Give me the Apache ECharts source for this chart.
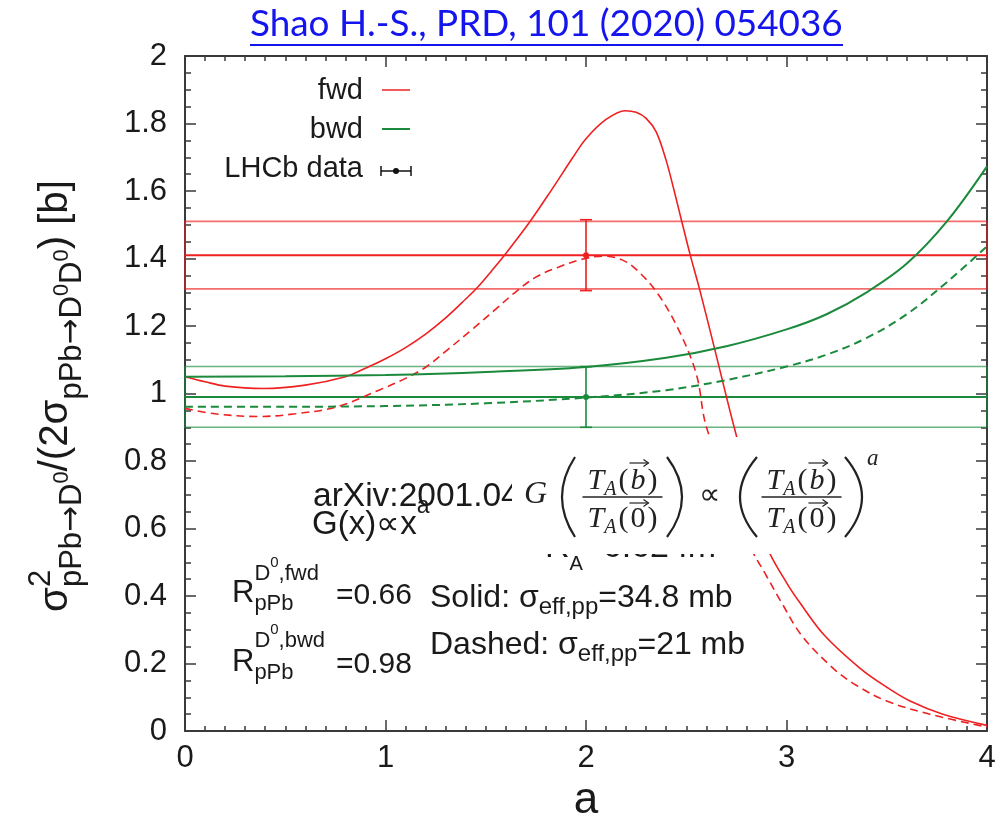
<!DOCTYPE html>
<html><head><meta charset="utf-8">
<script src="https://cdn.jsdelivr.net/npm/echarts@6/dist/echarts.min.js"></script>
<style>html,body{margin:0;padding:0;background:#fff}#c{width:999px;height:828px}</style>
</head><body><div id="c"></div>
<script>
// ---------------- data ----------------
const xTickValues = [0, 1, 2, 3, 4];
const yTickValues = [0, 0.2, 0.4, 0.6, 0.8, 1, 1.2, 1.4, 1.6, 1.8, 2];
const legendNames = ['fwd', 'bwd', 'LHCb data'];

// fwd, sigma_eff,pp = 34.8 mb (solid)
const fwdSolidA = [0, 0.1, 0.2, 0.39, 0.6, 0.8, 0.9, 1.0, 1.1, 1.2, 1.3, 1.4, 1.464, 1.53, 1.6, 1.72, 1.83, 1.935, 2.0, 2.1, 2.196, 2.25, 2.30, 2.35, 2.40, 2.44, 2.478, 2.52, 2.567, 2.64, 2.74, 2.901, 3.0, 3.067, 3.19, 3.367, 3.5, 3.616, 3.78, 4.0];
const fwdSolidY = [1.050, 1.035, 1.022, 1.015, 1.025, 1.050, 1.075, 1.103, 1.136, 1.176, 1.224, 1.280, 1.318, 1.364, 1.415, 1.509, 1.605, 1.700, 1.755, 1.812, 1.838, 1.833, 1.815, 1.775, 1.690, 1.600, 1.509, 1.41, 1.308, 1.136, 0.898, 0.549, 0.440, 0.380, 0.283, 0.186, 0.130, 0.089, 0.050, 0.017];
// fwd, sigma_eff,pp = 21 mb (dashed)
const fwdDashedA = [0, 0.15, 0.366, 0.55, 0.76, 0.967, 1.1, 1.2, 1.3, 1.44, 1.55, 1.647, 1.75, 1.856, 1.98, 2.09, 2.18, 2.25, 2.353, 2.458, 2.55, 2.602, 2.818, 2.9, 2.976, 3.076, 3.233, 3.35, 3.5, 3.716, 4.0];
const fwdDashedY = [0.956, 0.940, 0.932, 0.940, 0.961, 1.010, 1.045, 1.078, 1.125, 1.194, 1.250, 1.300, 1.345, 1.373, 1.398, 1.407, 1.396, 1.368, 1.300, 1.194, 1.058, 0.898, 0.549, 0.460, 0.380, 0.283, 0.186, 0.135, 0.089, 0.050, 0.012];
// bwd, solid
const bwdSolidA = [0, 0.5, 1.0, 1.5, 2.0, 2.4, 2.7, 3.0, 3.2, 3.4, 3.6, 3.8, 4.0];
const bwdSolidY = [1.050, 1.051, 1.055, 1.064, 1.079, 1.106, 1.140, 1.190, 1.235, 1.300, 1.385, 1.510, 1.673];
// bwd, dashed
const bwdDashedA = [0, 0.5, 1.0, 1.5, 2.0, 2.4, 2.7, 3.0, 3.2, 3.4, 3.6, 3.8, 4.0];
const bwdDashedY = [0.961, 0.961, 0.963, 0.971, 0.988, 1.010, 1.040, 1.080, 1.115, 1.165, 1.235, 1.330, 1.436];

// LHCb data (fwd, bwd)
const lhcbA = [2, 2];
const lhcbY = [1.41, 0.99];
const lhcbErr = [0.105, 0.09];

// ---------------- style ----------------
const SANS = '"Liberation Sans", Arial, sans-serif';
const DJV = '"DejaVu Sans", sans-serif';
const SERIF = '"Liberation Serif", "Times New Roman", serif';
const FRAME = '#3a3a3a';
const TXT = '#1a1a1a';
const RED = '#ee2020';
const GREEN = '#1b8a3c';
const lhcbColors = [RED, GREEN];
const bandStyles = [
  {c: lhcbY[0], lo: lhcbY[0] - lhcbErr[0] + 0.005, hi: lhcbY[0] + lhcbErr[0] - 0.005, color: RED, edge: 'rgba(238,32,32,0.65)'},
  {c: lhcbY[1], lo: lhcbY[1] - lhcbErr[1], hi: lhcbY[1] + lhcbErr[1], color: GREEN, edge: 'rgba(27,138,60,0.65)'}
];

const mctx = document.createElement('canvas').getContext('2d');
function fontStr(size, fam, style) { return (style || 'normal') + ' ' + size + 'px ' + fam; }
function measure(t, f) { mctx.font = f; return mctx.measureText(t).width; }

// lay out a run of text pieces with sub/superscripts
function layout(runs, x0, base, opt) {
  const els = [], spans = [];
  let x = x0, anchor = x0, maxX = x0;
  for (const r of runs) {
    if (r.mark) anchor = x;
    if (r.back) x = anchor;
    if (r.max) x = Math.max(x, maxX);
    x += r.pad || 0;
    const fam = r.fam || opt.fam;
    const f = fontStr(r.size, fam, r.style);
    const w = measure(r.t, f);
    const b = base + (r.dy || 0);
    els.push({type: 'text', z: opt.z || 40, x: x, y: b - 0.35 * r.size,
      style: {text: r.t, font: f, fill: opt.color || TXT, align: 'left', verticalAlign: 'middle',
              textAlign: 'left', textVerticalAlign: 'middle'}});
    spans.push([x, x + w]);
    x += w + (r.padR || 0); maxX = Math.max(maxX, x);
  }
  return {els, spans, width: maxX - x0};
}

const graphics = [];

// ---- title ----
const titleText = 'Shao H.-S., PRD, 101 (2020) 054036';
const TITLE_FAM = 'Lato, "Open Sans", sans-serif';
const titleSize = 36 * 593 / measure(titleText, fontStr(36, TITLE_FAM));
graphics.push({type: 'text', z: 60, x: 250, y: 37 - 0.35 * titleSize,
  style: {text: titleText, font: fontStr(titleSize, TITLE_FAM), fill: '#1414ee', align: 'left', verticalAlign: 'middle', textAlign: 'left', textVerticalAlign: 'middle'}});
graphics.push({type: 'line', z: 60, shape: {x1: 250, y1: 45, x2: 843, y2: 45}, style: {stroke: '#1414ee', lineWidth: 2}});

// ---- y axis label (rotated) ----
function yLabelRuns(M, S, s2) {
  const subDy = 0.33 * M, supDy = -0.45 * M, ssDy = subDy - 0.45 * S;
  return [
    {t: 'σ', size: M},
    {t: '2', size: S, dy: supDy, mark: true},
    {t: 'pPb', size: S, dy: subDy, back: true},
    {t: '→', size: S, dy: subDy, fam: DJV},
    {t: 'D', size: S, dy: subDy},
    {t: '0', size: s2, dy: ssDy},
    {t: '/(2σ', size: M, max: true},
    {t: 'pPb', size: S, dy: subDy},
    {t: '→', size: S, dy: subDy, fam: DJV},
    {t: 'D', size: S, dy: subDy},
    {t: '0', size: s2, dy: ssDy},
    {t: 'D', size: S, dy: subDy},
    {t: '0', size: s2, dy: ssDy},
    {t: ') [b]', size: M}
  ];
}
const yw0 = layout(yLabelRuns(35, 27, 19), 0, 0, {fam: SANS}).width;
const yf = Math.min(1.2, 432 / yw0);
const yl = layout(yLabelRuns(35 * yf, 27 * yf, 19 * yf), 0, 0, {fam: SANS, z: 40});
graphics.push({type: 'group', x: 70, y: 396 + yl.width / 2, rotation: Math.PI / 2, children: yl.els});

// ---- legend ----
const legRows = [91, 130, 169];
legendNames.forEach((n, i) => {
  graphics.push({type: 'text', z: 40, x: 363, y: legRows[i],
    style: {text: n, font: fontStr(29, SANS), fill: TXT, align: 'right', verticalAlign: 'middle', textAlign: 'right', textVerticalAlign: 'middle'}});
});
graphics.push({type: 'line', z: 40, shape: {x1: 382, y1: 90, x2: 410, y2: 90}, style: {stroke: RED, lineWidth: 1.5}});
graphics.push({type: 'line', z: 40, shape: {x1: 382, y1: 129, x2: 410, y2: 129}, style: {stroke: GREEN, lineWidth: 2}});
graphics.push({type: 'line', z: 40, shape: {x1: 381, y1: 171, x2: 411, y2: 171}, style: {stroke: '#111', lineWidth: 1.5}});
graphics.push({type: 'line', z: 40, shape: {x1: 381, y1: 166, x2: 381, y2: 176}, style: {stroke: '#111', lineWidth: 1.5}});
graphics.push({type: 'line', z: 40, shape: {x1: 411, y1: 166, x2: 411, y2: 176}, style: {stroke: '#111', lineWidth: 1.5}});
graphics.push({type: 'circle', z: 40, shape: {cx: 396, cy: 171, r: 3}, style: {fill: '#111'}});

// ---- annotations ----
const A = 32, AS = 24;
function addRuns(runs, x, base, z, color) { layout(runs, x, base, {fam: SANS, z: z || 40, color}).els.forEach(e => graphics.push(e)); }
addRuns([{t: 'arXiv:2001.04516', size: 33.5}], 313, 508);
addRuns([{t: 'G(x)∝x', size: 33}, {t: 'a', size: 23, dy: -21}], 312, 536);
addRuns([{t: 'R', size: 34}, {t: 'A', size: 20, dy: 11}, {t: '=6.62 fm', size: 34}], 545, 560, 40);
addRuns([{t: 'R', size: 31}, {t: 'D', size: 22, dy: -22, mark: true}, {t: '0', size: 15, dy: -36}, {t: ',fwd', size: 22, dy: -22}, {t: 'pPb', size: 22, dy: 8, back: true}], 232, 604);
addRuns([{t: '=0.66', size: 30}], 336, 606);
addRuns([{t: 'R', size: 31}, {t: 'D', size: 22, dy: -24, mark: true}, {t: '0', size: 15, dy: -38}, {t: ',bwd', size: 22, dy: -24}, {t: 'pPb', size: 22, dy: 8, back: true}], 232, 673);
addRuns([{t: '=0.98', size: 30}], 336, 675);
addRuns([{t: 'Solid: σ', size: A}, {t: 'eff,pp', size: AS, dy: 7}, {t: '=34.8 mb', size: A}], 430, 609);
addRuns([{t: 'Dashed: σ', size: A}, {t: 'eff,pp', size: AS, dy: 7}, {t: '=21 mb', size: A}], 430, 656);

// ---- formula box ----
graphics.push({type: 'rect', z: 45, shape: {x: 512, y: 437, width: 390, height: 117}, style: {fill: '#fff'}});
const EZ = 50, EC = '#222';
function eq(runs, x, base) { return layout(runs, x, base, {fam: SERIF, z: EZ, color: EC}); }
function arrow(x1, x2, y) {
  graphics.push({type: 'line', z: EZ, shape: {x1, y1: y, x2, y2: y}, style: {stroke: EC, lineWidth: 1.2}});
  graphics.push({type: 'polyline', z: EZ, shape: {points: [[x2 - 5, y - 3.5], [x2, y], [x2 - 5, y + 3.5]]}, style: {stroke: EC, fill: 'none', lineWidth: 1.2}});
}
function paren(xTop, xMid, yTop, yBot) {
  graphics.push({type: 'bezierCurve', z: EZ, shape: {x1: xTop, y1: yTop, x2: xTop, y2: yBot, cpx1: 2 * xMid - xTop, cpy1: (yTop + yBot) / 2},
    style: {stroke: EC, fill: 'none', lineWidth: 2.2}});
}
const FS = 30, FA = 20;
function fracRuns(arg, italicArg) {
  return [{t: 'T', size: FS, style: 'italic'}, {t: 'A', size: FA, style: 'italic', dy: 5, padR: 2},
          {t: '(', size: FS, padR: 2}, {t: arg, size: FS, style: italicArg ? 'italic' : 'normal', padR: 2}, {t: ')', size: FS}];
}
function fraction(cx) {
  const num = fracRuns('b', true);
  const w = eq(num, 0, 0).width;
  const n = eq(num, cx - w / 2, 492);
  n.els.forEach(e => graphics.push(e));
  const bs = n.spans[3];
  arrow(bs[0] - 1, bs[1] + 3, 463);
  const den = fracRuns('0', false);
  const w2 = eq(den, 0, 0).width;
  const d = eq(den, cx - w2 / 2, 530);
  d.els.forEach(e => graphics.push(e));
  const ds = d.spans[3];
  arrow(ds[0] - 1, ds[1] + 3, 503);
  graphics.push({type: 'line', z: EZ, shape: {x1: cx - 40, y1: 497, x2: cx + 40, y2: 497}, style: {stroke: EC, lineWidth: 1.3}});
}
eq([{t: 'G', size: 32, style: 'italic'}], 524, 506).els.forEach(e => graphics.push(e));
paren(575, 562, 457, 537);
fraction(622.5);
paren(667, 682, 457, 537);
eq([{t: '∝', size: 30}], 699, 507).els.forEach(e => graphics.push(e));
paren(757, 740, 457, 537);
fraction(801.5);
paren(845, 862, 457, 537);
eq([{t: 'a', size: 23, style: 'italic'}], 867, 467).els.forEach(e => graphics.push(e));

// ---------------- chart ----------------
function pairs(a, y) { return a.map((v, i) => [v, y[i]]); }
function xAxis(pos, show) {
  return {type: 'value', position: pos, min: xTickValues[0], max: xTickValues[xTickValues.length - 1], interval: 1,
    axisLine: {show: true, onZero: false, lineStyle: {color: FRAME, width: 2}},
    axisTick: {show: true, inside: true, length: 11, lineStyle: {color: FRAME, width: 1.5}},
    minorTick: {show: true, splitNumber: 10, length: 5, lineStyle: {color: FRAME, width: 1.5}},
    splitLine: {show: false}, minorSplitLine: {show: false},
    axisLabel: {show: show, fontSize: 31, fontFamily: SANS, color: TXT, margin: 12},
    name: show ? 'a' : '', nameLocation: 'middle', nameGap: 46,
    nameTextStyle: {fontSize: 44, fontFamily: SANS, color: TXT}};
}
function yAxis(pos, show) {
  return {type: 'value', position: pos, min: yTickValues[0], max: yTickValues[yTickValues.length - 1], interval: 0.2,
    axisLine: {show: true, onZero: false, lineStyle: {color: FRAME, width: 2}},
    axisTick: {show: true, inside: true, length: 11, lineStyle: {color: FRAME, width: 1.5}},
    minorTick: {show: true, splitNumber: 4, length: 6, lineStyle: {color: FRAME, width: 1.5}},
    splitLine: {show: false}, minorSplitLine: {show: false},
    axisLabel: {show: show, fontSize: 31, fontFamily: SANS, color: TXT, margin: 18}};
}
function curve(name, a, y, color, width, dashed) {
  return {type: 'line', name, data: pairs(a, y), smooth: 0.35, showSymbol: false, symbol: 'none', z: 3,
    lineStyle: {color, width, type: dashed ? [8, 5] : 'solid'}, emphasis: {disabled: true}};
}
const bandSeries = bandStyles.map((b, i) => ({
  type: 'line', name: 'band' + i, data: [[0, b.c], [4, b.c]], showSymbol: false, symbol: 'none', z: 2,
  lineStyle: {color: b.color, width: 2}, emphasis: {disabled: true}, silent: true,
  markArea: {silent: true, itemStyle: {color: 'rgba(0,0,0,0)', borderColor: b.edge, borderWidth: 1.6},
    data: [[{xAxis: 0, yAxis: b.lo}, {xAxis: 4, yAxis: b.hi}]]}
}));
const errSeries = {
  type: 'custom', name: 'LHCb data', z: 5,
  data: lhcbA.map((a, i) => [a, lhcbY[i], lhcbY[i] - lhcbErr[i], lhcbY[i] + lhcbErr[i], i]),
  encode: {x: 0, y: [1, 2, 3]},
  renderItem: (params, api) => {
    const p = api.coord([api.value(0), api.value(1)]);
    const lo = api.coord([api.value(0), api.value(2)]);
    const hi = api.coord([api.value(0), api.value(3)]);
    const c = lhcbColors[api.value(4)];
    const st = {stroke: c, lineWidth: 1.6};
    return {type: 'group', children: [
      {type: 'line', shape: {x1: p[0], y1: lo[1], x2: p[0], y2: hi[1]}, style: st},
      {type: 'line', shape: {x1: p[0] - 6, y1: lo[1], x2: p[0] + 6, y2: lo[1]}, style: st},
      {type: 'line', shape: {x1: p[0] - 6, y1: hi[1], x2: p[0] + 6, y2: hi[1]}, style: st},
      {type: 'circle', shape: {cx: p[0], cy: p[1], r: 3}, style: {fill: c}}
    ]};
  }
};

const chart = echarts.init(document.getElementById('c'), null, {renderer: 'canvas'});
chart.setOption({
  animation: false,
  backgroundColor: '#fff',
  grid: {left: 185, right: 12, top: 56, bottom: 84, containLabel: false},
  xAxis: [xAxis('bottom', true), xAxis('top', false)],
  yAxis: [yAxis('left', true), yAxis('right', false)],
  series: [
    ...bandSeries,
    curve('fwd', fwdSolidA, fwdSolidY, RED, 1.6, false),
    curve('fwd dashed', fwdDashedA, fwdDashedY, RED, 1.6, true),
    curve('bwd', bwdSolidA, bwdSolidY, GREEN, 2, false),
    curve('bwd dashed', bwdDashedA, bwdDashedY, GREEN, 2, true),
    errSeries
  ],
  graphic: {elements: graphics}
});
</script></body></html>
